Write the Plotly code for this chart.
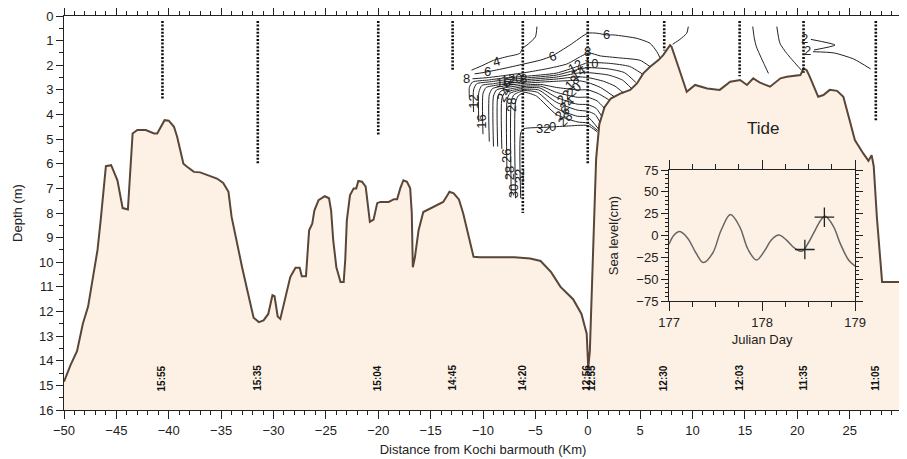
import plotly.graph_objects as go

# ---------------- data ----------------
bathy_x = [-50.0, -49.4, -48.75, -48.2, -47.7, -47.2, -46.8, -46.5, -46.3, -46.0, -45.5, -44.9, -44.4, -43.9,
           -43.45, -43.0, -42.2, -41.4, -41.1, -40.4, -40.0, -39.5, -39.2, -38.6, -38.25, -37.6, -37.0, -36.4,
           -35.4, -34.8, -34.3, -34.0, -33.5, -33.0, -32.5, -31.9, -31.4, -30.95, -30.5, -30.1, -29.9, -29.6,
           -29.35, -28.9, -28.4, -27.9, -27.5, -27.3, -26.9, -26.6, -26.3, -26.1, -25.7, -25.1, -24.7, -24.5,
           -24.3, -24.0, -23.6, -23.3, -23.15, -23.0, -22.7, -22.35, -22.1, -21.9, -21.55, -21.2, -21.0, -20.8,
           -20.45, -20.1, -19.8, -19.0, -18.5, -18.2, -17.9, -17.6, -17.26, -16.95, -16.8, -16.7, -16.5, -16.15,
           -15.7, -15.0, -13.8, -13.4, -13.2, -12.8, -12.3, -11.9, -11.4, -10.9, -10.3, -7.0, -5.5, -4.5, -3.5,
           -2.6, -1.4, -0.6, -0.1, 0.05, 0.2, 0.55, 0.8, 1.1, 1.6, 2.2, 3.1, 4.05, 4.7, 5.3, 5.95, 6.75, 7.2,
           7.86, 8.0, 8.65, 9.45, 10.25, 11.4, 12.6, 13.6, 14.55, 15.2, 15.8, 16.45, 17.4, 18.4, 19.0, 20.3,
           20.6, 20.9, 21.2, 22.0, 22.5, 23.1, 23.8, 24.4, 25.0, 25.5, 26.3, 26.8, 27.1, 27.3, 27.6, 28.1, 30.0]
bathy_d = [14.85, 14.2, 13.6, 12.5, 11.8, 10.6, 9.5, 8.3, 7.4, 6.1, 6.06, 6.67, 7.8, 7.86,
           4.77, 4.63, 4.63, 4.77, 4.77, 4.23, 4.25, 4.5, 4.9, 6.0, 6.12, 6.33, 6.35, 6.44,
           6.6, 6.78, 7.14, 8.16, 9.24, 10.2, 11.14, 12.25, 12.43, 12.36, 12.1, 11.34, 11.38, 12.2,
           12.3, 11.55, 10.6, 10.22, 10.22, 10.57, 10.57, 8.7, 8.43, 7.9, 7.48, 7.32, 7.4, 7.9,
           9.1, 10.2, 10.8, 10.8, 9.9, 8.3, 7.28, 7.0, 7.0, 6.7, 6.73, 6.93, 7.6, 8.36,
           8.27, 7.6, 7.55, 7.55, 7.44, 7.44, 7.0, 6.67, 6.73, 7.0, 8.0, 10.2, 9.8, 8.7,
           7.96, 7.8, 7.55, 7.28, 7.14, 7.2, 7.45, 8.0, 8.9, 9.78, 9.8, 9.8, 9.85, 9.95, 10.4,
           11.0, 11.5, 12.1, 12.9, 14.3, 13.6, 8.8, 5.8, 4.4, 3.7, 3.35, 3.15, 3.0, 2.74, 2.33, 2.06, 1.79, 1.59,
           1.18, 1.25, 2.06, 3.08, 2.8, 2.94, 3.0, 2.67, 2.6, 2.8, 2.53, 2.71, 2.87, 2.53, 2.47, 2.4,
           2.13, 2.2, 2.47, 3.28, 3.21, 3.0, 3.04, 3.28, 4.23, 5.04, 5.58, 5.88, 5.65, 6.1, 8.16, 10.8, 10.8]

station_x = [-40.6, -31.5, -20.0, -12.9, -6.2, 0.0, 7.3, 14.5, 20.6, 27.5]
station_bottom = [3.4, 6.0, 4.85, 2.2, 8.0, 6.05, 1.4, 2.45, 2.3, 4.25]
station_top = 0.2

time_x = [-40.6, -31.5, -20.0, -12.9, -6.2, -0.1, 0.4, 7.3, 14.5, 20.6, 27.5]
time_text = ["15:55", "15:35", "15:04", "14:45", "14:20", "12:56", "12:55", "12:30", "12:03", "11:35", "11:05"]
time_depth = 14.7

# salinity isolines (km, m)
iso_level = [4, 4, 6, 8, 10, 12, 14, 16, 18, 20, 22, 24, 26, 28, 30, 32, 2, 2, 2, 2]
iso_x = [
    [-11.1, -10.0, -9.0, -7.7, -6.5, -6.2, -5.8, -5.0, -4.85],
    [8.1, 8.8, 9.45, 9.6],
    [-10.8, -10.0, -8.0, -5.8, -4.5, -3.4, -1.7, 0.0, 0.9, 1.8, 2.5, 4.7, 5.95, 6.6, 6.9],
    [-11.0, -9.5, -8.0, -6.0, -4.0, -2.0, -0.7, 0.1, 1.2, 3.0, 5.0, 5.95],
    [-11.3, -11.3, -11.0, -9.5, -8.0, -6.0, -3.0, -1.0, 0.0, 2.0, 4.0, 5.2],
    [-10.9, -10.9, -10.6, -9.5, -8.0, -6.0, -3.0, -1.0, 0.0, 2.0, 3.5, 4.6],
    [-10.4, -10.4, -10.1, -9.0, -8.0, -6.0, -3.0, -1.0, 0.0, 2.0, 3.3, 4.2],
    [-10.0, -10.0, -9.7, -9.0, -8.0, -6.0, -3.0, -1.0, 0.0, 1.5, 2.6, 3.4],
    [-9.4, -9.4, -9.1, -8.0, -6.0, -3.0, -1.0, 0.0, 1.2, 2.5],
    [-9.0, -9.0, -8.7, -8.0, -6.0, -4.5, -3.0, -1.0, 0.0, 1.0, 2.0],
    [-8.6, -8.6, -8.3, -7.5, -6.0, -4.5, -3.0, -1.0, 0.0, 0.9, 1.6],
    [-8.2, -8.2, -7.9, -7.2, -6.0, -4.6, -3.0, -1.0, 0.0, 0.8, 1.3],
    [-7.7, -7.7, -7.45, -7.0, -6.0, -4.7, -3.0, -1.0, 0.0, 0.7, 1.15],
    [-7.3, -7.3, -7.05, -6.6, -6.0, -4.8, -3.0, -1.0, 0.0, 1.05],
    [-6.9, -6.9, -6.65, -6.3, -6.0, -4.9, -3.0, -1.0, 0.0, 0.95],
    [-6.4, -6.4, -6.1, -4.0, -2.0, 0.0, 0.9],
    [21.3, 23.6, 21.6],
    [21.5, 23.5, 25.4, 27.0],
    [15.75, 15.9, 16.1, 16.8, 17.25],
    [18.05, 18.35, 19.0, 19.95, 20.4],
]
iso_d = [
    [2.2, 2.0, 1.8, 1.65, 1.52, 1.3, 1.18, 0.85, 0.43],
    [1.15, 0.95, 0.7, 0.43],
    [2.35, 2.3, 2.13, 1.92, 1.79, 1.62, 1.18, 0.7, 0.7, 0.77, 0.77, 0.91, 1.11, 1.45, 1.7],
    [2.55, 2.5, 2.42, 2.3, 2.15, 1.95, 1.65, 1.5, 1.62, 1.7, 1.8, 2.06],
    [3.3, 2.9, 2.68, 2.6, 2.52, 2.45, 2.32, 2.05, 1.9, 1.92, 2.05, 2.35],
    [3.9, 3.0, 2.75, 2.68, 2.6, 2.52, 2.4, 2.18, 2.1, 2.15, 2.3, 2.7],
    [4.3, 3.1, 2.82, 2.75, 2.68, 2.59, 2.48, 2.32, 2.3, 2.4, 2.6, 2.95],
    [4.8, 3.15, 2.9, 2.83, 2.76, 2.66, 2.56, 2.47, 2.5, 2.65, 2.85, 3.12],
    [5.1, 3.2, 2.95, 2.84, 2.73, 2.65, 2.62, 2.7, 2.9, 3.27],
    [5.3, 3.25, 3.0, 2.92, 2.8, 2.78, 2.9, 3.0, 3.0, 3.15, 3.4],
    [5.3, 3.3, 3.05, 2.97, 2.86, 2.85, 3.1, 3.3, 3.3, 3.45, 3.75],
    [5.4, 3.35, 3.1, 3.02, 2.92, 2.92, 3.3, 3.58, 3.6, 3.75, 4.05],
    [6.6, 3.4, 3.15, 3.07, 2.98, 3.0, 3.5, 3.82, 3.87, 4.0, 4.3],
    [7.3, 3.45, 3.2, 3.1, 3.03, 3.1, 3.75, 4.07, 4.1, 4.6],
    [7.4, 3.5, 3.25, 3.15, 3.1, 3.25, 4.0, 4.3, 4.35, 4.65],
    [7.4, 4.75, 4.58, 4.52, 4.47, 4.45, 4.7],
    [0.95, 1.18, 1.38],
    [1.45, 1.5, 1.75, 2.15],
    [0.43, 0.9, 1.25, 1.92, 2.33],
    [0.43, 1.11, 1.52, 1.99, 2.2],
]

label_text = ["8", "6", "4", "12", "16", "16", "12", "20", "8", "24", "28", "26", "28", "30", "32",
              "6", "32", "0", "8", "10", "12", "14", "18", "20", "22", "24", "26", "28", "6", "2", "2"]
label_x = [-11.6, -9.6, -8.7, -10.9, -10.1, -8.1, -7.6, -6.9, -6.1, -8.0, -7.3, -7.75, -7.45, -7.1, -6.55,
           -3.4, -4.3, -3.4, 0.0, 0.3, -1.2, -0.9, -1.5, -1.3, -2.3, -2.0, -2.5, -2.2, 1.8, 20.7, 21.0]
label_d = [2.55, 2.25, 1.85, 3.5, 4.3, 2.7, 2.6, 2.55, 2.55, 3.2, 3.6, 5.7, 6.4, 7.1, 6.5,
           1.65, 4.55, 4.5, 1.45, 1.92, 2.05, 2.3, 2.7, 3.0, 3.3, 3.6, 3.95, 4.2, 0.77, 0.9, 1.4]
label_angle = [0, 0, -15, -90, -90, 0, 0, 0, 0, -60, -90, -90, -90, -90, -90,
               -20, 0, 0, 0, 0, -30, -30, -45, -45, -45, -45, -45, -45, 0, 0, 0]

tide_day = [177.0, 177.05, 177.115, 177.2, 177.29, 177.37, 177.47, 177.56, 177.66, 177.76, 177.85, 177.94,
            178.03, 178.1, 178.18, 178.26, 178.35, 178.43, 178.5, 178.57, 178.64, 178.68, 178.77, 178.84,
            178.93, 179.0]
tide_cm = [-10, 0, 4.5, -3, -20, -31, -20, 6, 24, 10, -16, -28,
           -17, -5, 0.5, -5, -14.5, -18, -8, 6, 19, 22, 10, -9,
           -28, -35]
mark_day = [178.46, 178.67]
mark_cm = [-16, 21]

# ---------------- figure ----------------
FONT = "Liberation Sans, Arial, sans-serif"
FILL = "#fdf1e5"
BROWN = "#5a4636"
AX = "#222222"

fig = go.Figure()

fig.add_trace(go.Scatter(x=[bathy_x[0], bathy_x[-1]], y=[16, 16], mode="lines",
                         line=dict(width=0, color=FILL), hoverinfo="skip", showlegend=False))
fig.add_trace(go.Scatter(x=bathy_x, y=bathy_d, mode="lines", fill="tonexty", fillcolor=FILL,
                         line=dict(color=BROWN, width=2), showlegend=False))

sx, sy = [], []
for x, b in zip(station_x, station_bottom):
    sx += [x, x, None]
    sy += [station_top, b, None]
fig.add_trace(go.Scatter(x=sx, y=sy, mode="lines",
                         line=dict(color="#111111", width=2.6, dash="2px,1.6px"), showlegend=False))

cx, cy = [], []
for xs, ds in zip(iso_x, iso_d):
    cx += list(xs) + [None]
    cy += list(ds) + [None]
fig.add_trace(go.Scatter(x=cx, y=cy, mode="lines",
                         line=dict(color="#222222", width=1, shape="spline", smoothing=0.6),
                         showlegend=False))

fig.add_trace(go.Scatter(x=tide_day, y=tide_cm, mode="lines", xaxis="x2", yaxis="y2",
                         line=dict(color="#666666", width=1.5, shape="spline", smoothing=1.0),
                         showlegend=False))
fig.add_trace(go.Scatter(x=mark_day, y=mark_cm, mode="markers", xaxis="x2", yaxis="y2",
                         marker=dict(symbol="cross-thin", size=14, line=dict(color="#222222", width=1.3)),
                         showlegend=False))

annotations = []
for t, x, d, a in zip(label_text, label_x, label_d, label_angle):
    annotations.append(dict(x=x, y=d, xref="x", yref="y", text=t, showarrow=False, textangle=a,
                            font=dict(family=FONT, size=13, color="#222222")))
for t, x in zip(time_text, time_x):
    annotations.append(dict(x=x, y=time_depth, xref="x", yref="y", text="<b>" + t + "</b>",
                            showarrow=False, textangle=-90,
                            font=dict(family=FONT, size=10, color="#111111")))
annotations.append(dict(x=16.7, y=4.55, xref="x", yref="y", text="Tide", showarrow=False,
                        font=dict(family=FONT, size=17, color="#222222")))

axis_common = dict(showgrid=False, zeroline=False, showline=True, linecolor=AX, linewidth=1,
                   ticks="outside", tickcolor=AX, mirror="allticks", automargin=False,
                   tickfont=dict(family=FONT, size=13, color="#222222"))

# page body adds an 8px offset; size the figure so the plot area lands where the reference has it
fig.update_layout(
    width=899, height=451,
    margin=dict(l=56, r=5, t=8, b=49),
    paper_bgcolor="white", plot_bgcolor="rgba(0,0,0,0)",
    font=dict(family=FONT, size=13, color="#222222"),
    showlegend=False,
    annotations=annotations,
    xaxis=dict(range=[-50, 30], dtick=5, ticklen=8,
               minor=dict(dtick=1, ticklen=4, ticks="outside", tickcolor=AX),
               title=dict(text="Distance from Kochi barmouth (Km)", font=dict(size=13), standoff=8),
               **axis_common),
    yaxis=dict(range=[16, 0], dtick=1, ticklen=7,
               minor=dict(dtick=0.5, ticklen=4, ticks="outside", tickcolor=AX),
               title=dict(text="Depth (m)", font=dict(size=13), standoff=13),
               **axis_common),
    xaxis2=dict(domain=[0.722, 0.944], anchor="y2", range=[177, 179], dtick=1, ticklen=9,
                minor=dict(dtick=0.25, ticklen=5, ticks="outside", tickcolor=AX),
                title=dict(text="Julian Day", font=dict(size=13), standoff=6),
                **axis_common),
    yaxis2=dict(domain=[0.2766, 0.609], anchor="x2", range=[-75, 75], dtick=25, ticklen=7,
                minor=dict(dtick=5, ticklen=3, ticks="outside", tickcolor=AX),
                title=dict(text="Sea level(cm)", font=dict(size=13), standoff=14),
                **axis_common),
)

fig.write_html("out.html")
